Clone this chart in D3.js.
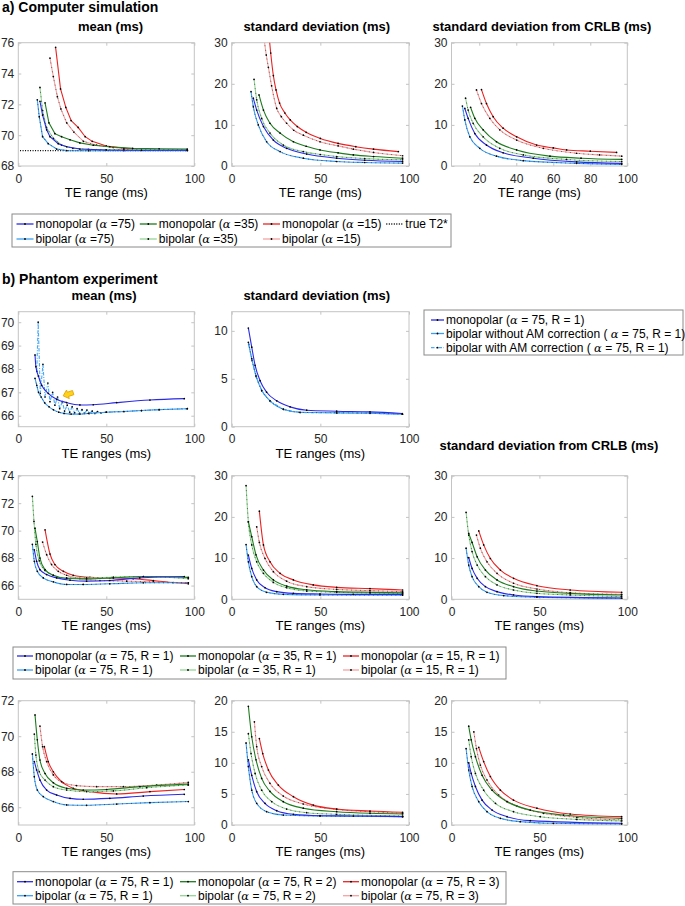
<!DOCTYPE html>
<html><head><meta charset="utf-8">
<script src="https://cdn.jsdelivr.net/npm/d3@7"></script>
<style>
body{margin:0;background:#fff;}
svg{display:block;font-family:"Liberation Sans",Arial,Helvetica,sans-serif;}
</style></head><body>
<svg id="c" width="685" height="906"></svg>
<script>
// ================= DATA =================
const xTicks = [0, 50, 100];
const xTicksCRLB = [20, 40, 60, 80, 100];
const yTicksSimMean = [68, 70, 72, 74, 76];
const yTicks30 = [0, 10, 20, 30];
const yTicksPhMean = [66, 67, 68, 69, 70];
const yTicksPhSd = [0, 5, 10];
const yTicksR3Mean = [66, 68, 70, 72, 74];
const yTicksR4Mean = [66, 68, 70, 72];
const yTicks20 = [0, 5, 10, 15, 20];

// a) computer simulation – mean
const simMean_m75 = [[12.3,72.2],[13.8,71.3],[16.1,70.35],[18,69.9],[22.7,69.45],[27.5,69.25],[35,69.1],[50,69.04],[70,69.02],[96,69.02]];
const simMean_b75 = [[10.8,72.3],[11.9,71.2],[13.8,69.9],[17,69.45],[21.8,69.1],[27.5,69.0],[40,68.99],[60,69.0],[96,69.0]];
const simMean_m35 = [[15.2,72.1],[17.4,70.8],[20.8,70.1],[24.6,69.9],[29.4,69.7],[35,69.5],[42.6,69.35],[52,69.25],[65,69.15],[80,69.12],[96,69.1]];
const simMean_b35 = [[12.3,73.1],[13.8,71.6],[16,70.5],[19.9,69.8],[24.6,69.35],[31,69.15],[40,69.08],[60,69.06],[96,69.06]];
const simMean_m15 = [[21.2,75.7],[24,73.0],[27,71.8],[30,70.95],[34,70.5],[38,69.9],[42,69.6],[50,69.3],[60,69.15],[70,69.1],[80,69.06],[96,69.03]];
const simMean_b15 = [[18,75.0],[19.9,73.8],[22.2,72.5],[24.2,71.7],[27.5,70.8],[31.6,70.2],[37,69.6],[44.5,69.35],[54,69.2],[65,69.12],[80,69.07],[96,69.04]];
const simTrueT2 = [[1,69],[96.5,69]];

// a) computer simulation – standard deviation
const simSd_m75 = [[12.2,16.5],[14.1,13.6],[17.9,9.6],[23.5,6.3],[31,4.3],[42.3,2.9],[59.2,1.9],[75,1.4],[96.4,1.1]];
const simSd_b75 = [[10.9,18.1],[12.2,14.4],[15,10],[19.7,5.9],[27.3,3.5],[40.4,1.9],[59.2,1.1],[75,0.85],[96.4,0.7]];
const simSd_m35 = [[15.4,17.3],[17.9,13.6],[21.6,10.4],[27.3,8],[34.8,5.9],[42,4.8],[49.8,3.9],[60,3.2],[68.6,2.7],[80,2.3],[96.4,1.9]];
const simSd_b35 = [[12.6,21.1],[14.1,16.1],[16.9,11.6],[21.6,8],[29.1,5.1],[40.4,3.5],[50,2.8],[59.2,2.3],[75,1.8],[96.4,1.5]];
const simSd_m15 = [[21.2,31],[22,27.5],[23.5,22],[25,18.5],[27,15.3],[30,12.9],[33,11.2],[37,9.6],[42,8.2],[50,6.7],[60,5.5],[70,4.7],[80,4.1],[94,3.5]];
const simSd_b15 = [[18.4,30.5],[19.5,27],[20.7,24],[22.5,19.5],[25.4,14],[28,12],[31,10.4],[35,8.7],[40.4,7.5],[49.8,5.9],[60,4.9],[68.6,4.1],[80,3.3],[96.4,2.5]];

// a) computer simulation – SD from CRLB
const simCr_m75 = [[12.2,14],[14,11.6],[17.6,7.9],[23.9,5.1],[32.9,3.2],[49.2,1.9],[72.6,1.0],[97,0.65]];
const simCr_b75 = [[10.9,14.6],[12.2,11.2],[14.9,7.1],[20.3,4.3],[29.3,2.4],[43.8,1.3],[72.6,0.65],[97,0.4]];
const simCr_m35 = [[15.3,14.3],[17.6,11.6],[22.1,8.8],[29.3,5.9],[40.2,3.9],[58.2,2.4],[75,1.9],[97,1.6]];
const simCr_b35 = [[12.6,16.5],[14,13.6],[16.7,10.4],[22.1,7.1],[31.1,4.3],[43.8,2.7],[67.2,1.6],[97,1.1]];
const simCr_m15 = [[21.2,18.6],[23.9,15.2],[27.5,12],[32.9,9.2],[40.2,7.1],[51,5.1],[60,4.4],[67.2,3.9],[80,3.6],[94.2,3.3]];
const simCr_b15 = [[18.5,18.5],[21.2,15.2],[25.7,11.6],[31.1,8.8],[40.2,6.3],[54.6,4.3],[72.6,3.1],[85,2.7],[97,2.4]];

// b) phantom – AM correction comparison
const phMean_mono = [[9.5,68.6],[10,68.1],[11.4,67.7],[13.3,67.3],[17,66.96],[21.8,66.7],[27.5,66.56],[35,66.46],[42.6,66.47],[55.9,66.56],[74.8,66.67],[94.3,66.73]];
const phMean_bipNoAM = [[9.5,67.6],[10.5,67.3],[11.5,67.0],[13,66.8],[15,66.55],[17.5,66.38],[20,66.25],[23,66.15],[26,66.1],[30,66.07],[35,66.07],[40,66.1],[50,66.15],[60,66.18],[70,66.22],[80,66.26],[96,66.3]];
const phMean_bipAM = [[10.5,67.9],[11.3,70.0],[12.5,66.95],[14,68.2],[15.2,66.8],[16.8,67.4],[18,66.6],[19.5,67.0],[20.8,66.45],[22.3,66.8],[23.5,66.3],[25,66.6],[26.3,66.2],[27.8,66.45],[29.2,66.15],[30.6,66.38],[32,66.12],[33.4,66.3],[34.8,66.1],[36.2,66.26],[37.6,66.1],[39,66.24],[40.4,66.1],[42,66.2],[43.5,66.1],[45,66.18],[47,66.12],[50,66.15],[60,66.18],[70,66.22],[80,66.26],[96,66.3]];
const phSd_mono = [[9.4,10.3],[11.3,8.3],[13.2,6.4],[16,4.8],[19.7,3.6],[25.4,2.7],[32.9,2.07],[42.3,1.72],[59.2,1.62],[78,1.55],[96.2,1.38]];
const phSd_bipNoAM = [[9.4,8.8],[11.3,7.1],[13.7,5.3],[16.9,3.8],[21.6,2.7],[29.1,1.83],[38.5,1.5],[59.2,1.45],[78,1.42],[96.2,1.31]];
const phSd_bipAM = [[9.6,8.6],[11.5,6.9],[13.9,5.2],[17.1,3.7],[21.8,2.65],[29.3,1.8],[38.7,1.48],[59.4,1.44],[78,1.4],[96.4,1.3]];

// b) phantom – alpha comparison (R = 1)
const r3Mean_m75 = [[9.1,68.6],[10.4,67.77],[12.3,67.16],[16.1,66.8],[21.8,66.56],[29.4,66.39],[38.8,66.32],[52,66.37],[69,66.56],[94.3,66.66]];
const r3Mean_b75 = [[8,69],[9.1,67.77],[10.8,67.04],[14.2,66.56],[19.9,66.27],[27.5,66.08],[36.9,66.08],[52,66.13],[71,66.2],[96.6,66.2]];
const r3Mean_m35 = [[9.5,70.18],[10.8,69.2],[12.3,68],[15.2,67.16],[19.9,66.75],[27.5,66.51],[38.8,66.49],[54,66.56],[71,66.66],[96.6,66.6]];
const r3Mean_b35 = [[8,72.5],[8.9,70.67],[10,69],[11.9,67.8],[15.2,67.1],[19.9,66.75],[27.5,66.56],[38.8,66.56],[54,66.61],[71,66.66],[96.6,66.5]];
const r3Mean_m15 = [[15.2,70.06],[18,68.3],[20.8,67.53],[25.6,67.04],[31.2,66.75],[40.7,66.6],[52,66.56],[65.3,66.5],[76.7,66.37],[88,66.22],[96.6,66.13]];
const r3Mean_b15 = [[13.8,69.17],[16.1,68.25],[18.9,67.53],[22.7,67.04],[27.5,66.75],[35,66.51],[46.4,66.37],[61.6,66.32],[76.7,66.27],[96.6,66.2]];

const r3Sd_m75 = [[9.4,10.75],[11.3,7.5],[14.1,4.7],[18.8,2.8],[25.4,1.86],[34.8,1.45],[49.8,1.3],[68.6,1.2],[96.4,1.2]];
const r3Sd_b75 = [[8.1,13.3],[9.4,9.1],[11.3,5.5],[14.1,3.07],[19.7,1.7],[29.1,1.2],[49.8,1.05],[96.4,1.0]];
const r3Sd_m35 = [[9.4,18.8],[11.3,15.2],[13.7,10.8],[17.9,7.1],[23.5,4.7],[31,3.2],[42.3,2.3],[59.2,1.86],[78,1.7],[96.4,1.6]];
const r3Sd_b35 = [[8.1,27.6],[9.4,18.8],[11.3,13.2],[14.1,9.1],[17.9,6.3],[23.5,4.1],[31,2.8],[42.3,2.0],[59.2,1.7],[78,1.54],[96.4,1.45]];
const r3Sd_m15 = [[15.6,21.4],[17.9,13.2],[21.6,9.1],[27.3,6.3],[34.8,4.7],[46,3.5],[59.2,2.9],[78,2.6],[96.4,2.26]];
const r3Sd_b15 = [[14.1,17.6],[15.6,13.8],[18.8,9.9],[23.5,6.7],[31,4.4],[42.3,3.07],[59.2,2.4],[78,2.1],[96.4,1.86]];

const r3Cr_m75 = [[9.8,10.1],[11.7,7.5],[14.6,5.1],[19.3,3.07],[25.9,1.86],[35.3,1.05],[48.6,0.65],[96.8,0.32]];
const r3Cr_b75 = [[8.3,12.4],[9.8,8.3],[11.7,5.5],[15.5,3.07],[20.2,1.7],[29.7,0.9],[48.6,0.5],[96.8,0.25]];
const r3Cr_m35 = [[9.8,16],[11.7,13.8],[14.6,10.3],[19.3,7.1],[25.9,4.7],[35.3,3.07],[48.6,2.0],[67.5,1.45],[96.8,1.05]];
const r3Cr_b35 = [[8.3,21.1],[9.8,15.6],[11.7,11.6],[14.6,8.3],[19.3,5.5],[25.9,3.5],[35.3,2.26],[48.6,1.45],[67.5,1.05],[96.8,0.65]];
const r3Cr_m15 = [[15.5,16.6],[18.3,13.2],[22.1,9.9],[27.8,7.1],[35.3,5.1],[48.6,3.3],[67.5,2.26],[96.8,1.7]];
const r3Cr_b15 = [[14.2,15.6],[16.4,12.4],[20.2,9.1],[25.9,6.3],[35.3,3.9],[48.6,2.5],[67.5,1.6],[96.8,1.2]];

// b) phantom – R comparison (alpha = 75)
const r4Mean_m1 = [[9.1,68.57],[10.4,68.1],[12.3,67.53],[16.1,66.97],[21.8,66.69],[29.4,66.5],[36.9,66.45],[52,66.5],[71,66.63],[94.3,66.73]];
const r4Mean_b1 = [[8,69],[9.1,67.72],[10.8,66.97],[14.2,66.6],[19.9,66.32],[27.5,66.13],[38.8,66.11],[55.9,66.18],[74.8,66.26],[96.6,66.32]];
const r4Mean_m2 = [[9.5,71.2],[10.8,69.8],[12.3,68.66],[15.2,67.9],[19.9,67.38],[27.5,67.07],[36.9,66.97],[50.2,67.0],[69.1,67.16],[96.6,67.3]];
const r4Mean_b2 = [[9.1,70.12],[10,68.94],[11.9,68.0],[15.2,67.53],[19.9,67.16],[27.5,66.97],[38.8,66.88],[54,66.92],[72.9,67.1],[96.6,67.25]];
const r4Mean_m3 = [[14.8,69.41],[17,68.57],[19.9,68.0],[24.6,67.44],[31.2,67.07],[40.7,66.88],[55.9,66.75],[74.8,66.88],[94.3,67.0]];
const r4Mean_b3 = [[12.3,70.57],[13.8,69.41],[16.1,68.57],[19.9,67.82],[25.6,67.38],[33.1,67.22],[44.5,67.16],[59.7,67.16],[78.6,67.25],[96.6,67.4]];

const r4Sd_m1 = [[9.4,10.5],[11.3,8.0],[14.1,5.36],[18.8,3.49],[25.4,2.3],[34.8,1.72],[49.8,1.5],[68.6,1.45],[96.4,1.34]];
const r4Sd_b1 = [[8.1,13.2],[9.4,9.4],[11.3,5.6],[14.1,3.49],[19.7,2.14],[29.1,1.6],[49.8,1.45],[96.4,1.34]];
const r4Sd_m2 = [[9.4,19.1],[11.3,14.2],[13.7,10.5],[16.9,7.5],[21.6,5.4],[29.1,3.75],[40.4,2.7],[59.2,2.14],[78,1.88],[96.4,1.77]];
const r4Sd_b2 = [[9.4,14.7],[10.9,11.5],[13.2,8.3],[16.9,5.6],[22.6,3.75],[31,2.57],[42.3,1.98],[59.2,1.72],[96.4,1.45]];
const r4Sd_m3 = [[15.6,13.9],[17.5,11.5],[20.7,8.85],[26.3,6.43],[34.8,4.56],[46,3.2],[59.2,2.57],[78,2.25],[96.4,2.04]];
const r4Sd_b3 = [[12.8,16.6],[14.1,12.6],[16.9,9.4],[21.6,6.7],[29.1,4.66],[40.4,3.38],[59.2,2.52],[78,2.14],[96.4,1.88]];

const r4Cr_m1 = [[9.8,10],[11.2,8.3],[13.6,6.2],[17.4,4.0],[23.1,2.4],[31.6,1.34],[44.8,0.7],[96.8,0.27]];
const r4Cr_b1 = [[8.3,12.3],[9.8,8.85],[11.7,6.2],[15.5,3.75],[20.2,2.14],[27.8,1.07],[39.1,0.54],[58,0.27],[96.8,0.16]];
const r4Cr_m2 = [[9.8,15.9],[11.2,13.7],[13.6,11],[17.4,8.0],[23.1,5.6],[31.6,3.75],[44.8,2.4],[63.7,1.6],[96.8,1.07]];
const r4Cr_b2 = [[9.8,13.7],[11.2,11],[13.6,8.3],[18.3,5.6],[25,3.49],[35.3,2.14],[50.5,1.34],[71.3,0.9],[96.8,0.64]];
const r4Cr_m3 = [[15.5,12.5],[18.3,10.2],[22.1,7.8],[27.8,5.6],[35.3,4.0],[48.6,2.7],[67.5,1.77],[96.8,1.34]];
const r4Cr_b3 = [[12.7,15.0],[14.2,12.3],[16.4,9.65],[20.2,7.24],[26.8,4.83],[37.2,3.06],[52.4,1.88],[71.3,1.23],[96.8,0.8]];

// legend labels
const legendA = [["m75","monopolar (α =75)"],["m35","monopolar (α =35)"],["m15","monopolar (α =15)"],["true","true T2*"],
                 ["b75","bipolar (α =75)"],["b35","bipolar (α =35)"],["b15","bipolar (α =15)"]];
const legendB1 = [["m75","monopolar (α = 75, R = 1)"],["b75","bipolar without AM correction ( α = 75, R = 1)"],["am","bipolar with AM correction ( α = 75, R = 1)"]];
const legendB2 = [["m75","monopolar (α = 75, R = 1)"],["m35","monopolar (α = 35, R = 1)"],["m15","monopolar (α = 15, R = 1)"],
                  ["b75","bipolar (α = 75, R = 1)"],["b35","bipolar (α = 35, R = 1)"],["b15","bipolar (α = 15, R = 1)"]];
const legendB3 = [["m75","monopolar (α = 75, R = 1)"],["m35","monopolar (α = 75, R = 2)"],["m15","monopolar (α = 75, R = 3)"],
                  ["b75","bipolar (α = 75, R = 1)"],["b35","bipolar (α = 75, R = 2)"],["b15","bipolar (α = 75, R = 3)"]];

// ================= STYLE =================
const STY = {
  m75:{c:"#2a2ae6", bip:false},
  b75:{c:"#3a9ef2", bip:true},
  m35:{c:"#1e7a1e", bip:false},
  b35:{c:"#93d493", bip:true},
  m15:{c:"#ec2222", bip:false},
  b15:{c:"#f6a2a2", bip:true},
  am:{c:"#4aaaf5", bip:true, dash:"3.5,1.5,1,1.5"},
  true:{c:"#000", dash:"1,1.5", noMark:true}
};
const BOX = "#c4c4c4", TXT = "#262626";
const svg = d3.select("#c");
const defs = svg.append("defs");
let clipN = 0;
const fmt = d3.format("d");

function richText(t, str){
  str.split("α").forEach((p,i)=>{
    if(i>0) t.append("tspan").attr("font-family","'DejaVu Serif','Liberation Serif',serif").attr("font-style","italic").attr("font-size","11.5px").text("α");
    if(p) t.append("tspan").text(p);
  });
}

function panel(o){
  const [x0,x1] = o.xr, [y0,y1] = o.yr;
  const x = d3.scaleLinear().domain(o.xd).range([x0,x1]);
  const y = d3.scaleLinear().domain(o.yd).range([y1,y0]);
  const g = svg.append("g");
  g.append("rect").attr("x",x0).attr("y",y0).attr("width",x1-x0).attr("height",y1-y0).attr("fill","#fff");
  const axes = [
    [d3.axisBottom(x).tickValues(o.xt).tickSize(-3).tickPadding(8).tickFormat(fmt), `translate(0,${y1})`],
    [d3.axisTop(x).tickValues(o.xt).tickSize(-3).tickFormat(""), `translate(0,${y0})`],
    [d3.axisLeft(y).tickValues(o.yt).tickSize(-3).tickPadding(4).tickFormat(fmt), `translate(${x0},0)`],
    [d3.axisRight(y).tickValues(o.yt).tickSize(-3).tickFormat(""), `translate(${x1},0)`]
  ];
  axes.forEach(([ax,tr])=>{
    const a = g.append("g").attr("transform",tr).call(ax);
    a.select(".domain").remove();
    a.selectAll(".tick line").attr("stroke",BOX);
    a.selectAll(".tick text").attr("fill",TXT).style("font-size","12px").style("font-family","'Liberation Sans',Arial,sans-serif");
  });
  g.append("rect").attr("x",x0).attr("y",y0).attr("width",x1-x0).attr("height",y1-y0)
   .attr("fill","none").attr("stroke",BOX).attr("stroke-width",1);
  const id = "cp"+(clipN++);
  defs.append("clipPath").attr("id",id).append("rect").attr("x",x0).attr("y",y0).attr("width",x1-x0).attr("height",y1-y0);
  const pg = g.append("g").attr("clip-path",`url(#${id})`);
  o.series.forEach(([data,key])=>{
    const s = STY[key];
    const line = d3.line().x(d=>x(d[0])).y(d=>y(d[1])).curve((o.linear || key==="am") ? d3.curveLinear : d3.curveMonotoneX);
    const p = pg.append("path").datum(data).attr("d",line).attr("fill","none").attr("stroke",s.c).attr("stroke-width",1.1);
    if(s.dash) p.attr("stroke-dasharray",s.dash);
    if(s.bip && !s.dash) pg.append("path").datum(data).attr("d",line).attr("fill","none").attr("stroke","#000").attr("stroke-width",0.8).attr("stroke-opacity",0.7).attr("stroke-dasharray","0.9,3.6");
    if(!s.noMark) pg.selectAll(null).data(data).join("circle").attr("cx",d=>x(d[0])).attr("cy",d=>y(d[1])).attr("r",0.85).attr("fill","#000");
  });
  if(o.xlabel) svg.append("text").attr("x",(x0+x1)/2).attr("y",y1+31).attr("text-anchor","middle").style("font-size","13px").attr("fill","#000").text(o.xlabel);
  if(o.title) svg.append("text").attr("x",o.tx).attr("y",o.ty||(y0-12)).attr("text-anchor","middle").style("font-size","13px").style("font-weight","bold").attr("fill","#000").text(o.title);
  return {x,y,g};
}

function legend(box, cols, rows, items, lineLen){
  svg.append("rect").attr("x",box[0]).attr("y",box[1]).attr("width",box[2]-box[0]).attr("height",box[3]-box[1])
     .attr("fill","#fff").attr("stroke","#8a8a8a").attr("stroke-width",1);
  items.forEach(([key,label],i)=>{
    const cx = cols[i % cols.length], cy = rows[Math.floor(i / cols.length)];
    const s = STY[key];
    const l = svg.append("line").attr("x1",cx).attr("x2",cx+lineLen).attr("y1",cy).attr("y2",cy).attr("stroke",s.c).attr("stroke-width",1.3);
    if(s.dash) l.attr("stroke-dasharray", key==="true" ? "1,1.5" : s.dash);
    if(!s.noMark) svg.append("circle").attr("cx",cx+lineLen/2).attr("cy",cy).attr("r",0.9).attr("fill","#000");
    const t = svg.append("text").attr("x",cx+lineLen+2).attr("y",cy+4.2).style("font-size","12px").attr("fill","#000");
    richText(t,label);
  });
}

// ================= LAYOUT =================
const C0=[18.3,194.3], C1=[231.7,409], C2=[451.5,627.3];
const R1=[42.7,166], R2=[311.7,426.7], R3=[475.7,599.3], R4=[700.7,825];

svg.append("text").attr("x",2).attr("y",12).style("font-size","14px").style("font-weight","bold").text("a) Computer simulation");

panel({xr:C0, yr:R1, xd:[0,100], yd:[68,76], xt:xTicks, yt:yTicksSimMean, xlabel:"TE range (ms)", title:"mean (ms)", tx:110.5,
  linear:true,
  series:[[simTrueT2,"true"],[simMean_b15,"b15"],[simMean_m15,"m15"],[simMean_b35,"b35"],[simMean_m35,"m35"],[simMean_b75,"b75"],[simMean_m75,"m75"]]});
panel({xr:C1, yr:R1, xd:[0,100], yd:[0,30], xt:xTicks, yt:yTicks30, xlabel:"TE range (ms)", title:"standard deviation (ms)", tx:316.7,
  series:[[simSd_b15,"b15"],[simSd_m15,"m15"],[simSd_b35,"b35"],[simSd_m35,"m35"],[simSd_b75,"b75"],[simSd_m75,"m75"]]});
panel({xr:C2, yr:R1, xd:[5,100], yd:[0,30], xt:xTicksCRLB, yt:yTicks30, xlabel:"TE range (ms)", title:"standard deviation from CRLB (ms)", tx:542,
  series:[[simCr_b15,"b15"],[simCr_m15,"m15"],[simCr_b35,"b35"],[simCr_m35,"m35"],[simCr_b75,"b75"],[simCr_m75,"m75"]]});

legend([12,214,451,247],[16.5,139.8,263,386.3],[224,239],legendA,17);

svg.append("text").attr("x",2).attr("y",284).style("font-size","14px").style("font-weight","bold").text("b) Phantom experiment");

const pm = panel({xr:C0, yr:R2, xd:[0,100], yd:[65.53,70.45], xt:xTicks, yt:yTicksPhMean, xlabel:"TE ranges (ms)", title:"mean (ms)", tx:104,
  series:[[phMean_bipAM,"am"],[phMean_bipNoAM,"b75"],[phMean_mono,"m75"]]});
// yellow arrow annotation
{
  const ax = pm.x(25.5), ay = pm.y(66.85);
  svg.append("path").attr("transform",`translate(${ax},${ay}) rotate(-18)`)
    .attr("d","M0,0 L5,-4.5 L5,-2.2 L10.5,-2.2 L10.5,2.2 L5,2.2 L5,4.5 Z")
    .attr("fill","#ffd21a").attr("stroke","#e0a400").attr("stroke-width",0.8).attr("stroke-linejoin","round");
}
panel({xr:C1, yr:R2, xd:[0,100], yd:[0,12], xt:xTicks, yt:yTicksPhSd, xlabel:"TE ranges (ms)", title:"standard deviation (ms)", tx:316.7,
  series:[[phSd_bipAM,"am"],[phSd_bipNoAM,"b75"],[phSd_mono,"m75"]]});
legend([424,310,683,355],[431],[320,333.5,347.7],legendB1,13);

panel({xr:C0, yr:R3, xd:[0,100], yd:[65,74], xt:xTicks, yt:yTicksR3Mean, xlabel:"TE ranges (ms)",
  series:[[r3Mean_b15,"b15"],[r3Mean_m15,"m15"],[r3Mean_b35,"b35"],[r3Mean_m35,"m35"],[r3Mean_b75,"b75"],[r3Mean_m75,"m75"]]});
panel({xr:C1, yr:R3, xd:[0,100], yd:[0,30], xt:xTicks, yt:yTicks30, xlabel:"TE ranges (ms)",
  series:[[r3Sd_b15,"b15"],[r3Sd_m15,"m15"],[r3Sd_b35,"b35"],[r3Sd_m35,"m35"],[r3Sd_b75,"b75"],[r3Sd_m75,"m75"]]});
panel({xr:C2, yr:R3, xd:[0,100], yd:[0,30], xt:xTicks, yt:yTicks30, xlabel:"TE ranges (ms)", title:"standard deviation from CRLB (ms)", tx:549, ty:449.5,
  series:[[r3Cr_b15,"b15"],[r3Cr_m15,"m15"],[r3Cr_b35,"b35"],[r3Cr_m35,"m35"],[r3Cr_b75,"b75"],[r3Cr_m75,"m75"]]});
legend([13,647,506,679],[17,180,343],[656,670],legendB2,16);

panel({xr:C0, yr:R4, xd:[0,100], yd:[65,72], xt:xTicks, yt:yTicksR4Mean, xlabel:"TE ranges (ms)",
  series:[[r4Mean_b3,"b15"],[r4Mean_m3,"m15"],[r4Mean_b2,"b35"],[r4Mean_m2,"m35"],[r4Mean_b1,"b75"],[r4Mean_m1,"m75"]]});
panel({xr:C1, yr:R4, xd:[0,100], yd:[0,20], xt:xTicks, yt:yTicks20, xlabel:"TE ranges (ms)",
  series:[[r4Sd_b3,"b15"],[r4Sd_m3,"m15"],[r4Sd_b2,"b35"],[r4Sd_m2,"m35"],[r4Sd_b1,"b75"],[r4Sd_m1,"m75"]]});
panel({xr:C2, yr:R4, xd:[0,100], yd:[0,20], xt:xTicks, yt:yTicks20, xlabel:"TE ranges (ms)",
  series:[[r4Cr_b3,"b15"],[r4Cr_m3,"m15"],[r4Cr_b2,"b35"],[r4Cr_m2,"m35"],[r4Cr_b1,"b75"],[r4Cr_m1,"m75"]]});
legend([13,871.7,506,904],[17,180,343],[881.7,895.7],legendB3,16);
</script>
</body></html>
